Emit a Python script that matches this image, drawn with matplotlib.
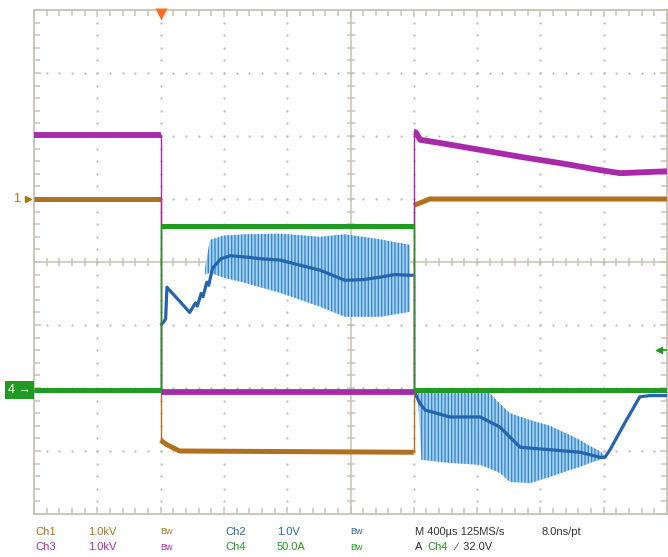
import matplotlib
matplotlib.use('Agg')
import matplotlib.pyplot as plt
from matplotlib.ticker import MultipleLocator
import numpy as np

plt.rcParams['font.family'] = ['Liberation Sans', 'DejaVu Sans']

# ---- data in screen divisions (time 0..10 div, amplitude -4..4 div) ----
ch3_t = [0.0, 2.0, 2.0, 6.0, 6.0, 6.03, 6.1, 6.41, 7.05, 7.68, 8.31, 8.94, 9.26, 10.0]
ch3_v = [2.02, 2.02, -2.06, -2.06, 2.06, 2.06, 1.94, 1.89, 1.78, 1.67, 1.57, 1.46, 1.41, 1.44]

ch1_t = [0.0, 2.0, 2.0, 2.1, 2.3, 6.0, 6.0, 6.08, 6.25, 10.0]
ch1_v = [1.0, 1.0, -2.83, -2.9, -3.0, -3.02, 0.9, 0.93, 1.0, 1.0]

ch4_t = [0.0, 2.0, 2.0, 6.0, 6.0, 10.0]
ch4_v = [-2.03, -2.03, 0.57, 0.57, -2.03, -2.03]

ch2_t = [0.0, 2.0, 2.0, 2.05, 2.08, 2.1, 2.46, 2.55, 2.58, 2.64, 2.67, 2.73, 2.76,
         2.82, 2.95, 3.1, 3.33, 3.6, 3.89, 4.2, 4.52, 4.91, 5.2, 5.47, 5.7, 5.94, 6.0,
         6.0, 6.05, 6.1, 6.18, 6.57, 7.05, 7.36, 7.68, 8.15, 8.63, 8.94, 9.02, 9.1,
         9.33, 9.57, 9.73, 10.0]
ch2_v = [-2.03, -2.03, -1.0, -0.95, -0.9, -0.4, -0.8, -0.65, -0.7, -0.5, -0.55, -0.32, -0.37,
         -0.1, 0.05, 0.1, 0.08, 0.05, 0.03, -0.05, -0.13, -0.29, -0.28, -0.24, -0.2, -0.21, -0.21,
         -2.03, -2.15, -2.25, -2.35, -2.46, -2.46, -2.62, -2.94, -2.98, -3.02, -3.1, -3.1, -2.98,
         -2.56, -2.14, -2.12, -2.12]

# ripple envelope, on interval
rip1_t = [2.7, 2.78, 3.0, 3.33, 3.89, 4.52, 4.91, 5.47, 5.94]
rip1_hi = [-0.1, 0.35, 0.42, 0.44, 0.45, 0.40, 0.44, 0.36, 0.27]
rip1_lo = [-0.2, -0.17, -0.25, -0.33, -0.49, -0.71, -0.87, -0.87, -0.79]
# ripple envelope, off interval
rip2_t = [6.07, 6.12, 6.57, 7.05, 7.2, 7.36, 7.52, 7.84, 8.15, 8.3, 8.47, 8.63, 8.78, 8.94, 9.02]
rip2_hi = [-2.08, -2.08, -2.08, -2.08, -2.08, -2.25, -2.40, -2.51, -2.6, -2.67, -2.75, -2.83, -2.92, -3.0, -3.08]
rip2_lo = [-2.2, -3.14, -3.19, -3.22, -3.28, -3.35, -3.49, -3.51, -3.41, -3.36, -3.30, -3.25, -3.19, -3.14, -3.11]

C_PUR = '#a82aaa'
C_ORG = '#b0701e'
C_GRN = '#1f9a22'
C_BLU = '#2464b0'
C_GRID = '#c7c2b2'

fig = plt.figure(figsize=(6.68, 5.57), dpi=100)
ax = fig.add_axes([34/668, 43/557, 633/668, 504/557])
ax.set_xlim(0, 10)
ax.set_ylim(-4, 4)
for s in ax.spines.values():
    s.set_color(C_GRID)
    s.set_linewidth(1.3)
ax.xaxis.set_major_locator(MultipleLocator(1))
ax.yaxis.set_major_locator(MultipleLocator(1))
ax.xaxis.set_minor_locator(MultipleLocator(0.2))
ax.yaxis.set_minor_locator(MultipleLocator(0.2))
ax.tick_params(which='both', direction='in', top=True, right=True, labelbottom=False,
               labelleft=False, color=C_GRID, width=1.1)
ax.tick_params(which='major', length=5)
ax.tick_params(which='minor', length=4)

# graticule
ax.axhline(0, color=C_GRID, lw=1.1, zorder=1)
ax.axvline(5, color=C_GRID, lw=1.1, zorder=1)
mt = np.arange(0.2, 10, 0.2)
ax.plot(mt, np.zeros_like(mt), ls='none', marker='|', ms=6, color=C_GRID, mew=1.1, zorder=1)
mv = np.arange(-3.8, 4, 0.2)
ax.plot(np.full_like(mv, 5), mv, ls='none', marker='_', ms=6, color=C_GRID, mew=1.1, zorder=1)
dx, dy = [], []
for gx in range(1, 10):
    if gx == 5:
        continue
    for yy in mv:
        dx.append(gx); dy.append(yy)
for gy in range(-3, 4):
    if gy == 0:
        continue
    for xx in mt:
        dx.append(xx); dy.append(gy)
ax.scatter(dx, dy, s=2.5, color='#b9b9b9', linewidths=0, zorder=1)


def trace(t, v, color, lw, z):
    """Thick runs between edges, thin vertical edges (like a scope display)."""
    run_t, run_v = [t[0]], [v[0]]
    for i in range(len(t) - 1):
        if t[i] == t[i + 1]:
            if len(run_t) > 1:
                ax.plot(run_t, run_v, color=color, lw=lw, zorder=z,
                        solid_capstyle='butt', solid_joinstyle='round')
            ax.plot([t[i], t[i + 1]], [v[i], v[i + 1]], color=color, lw=1.0, zorder=z)
            run_t, run_v = [t[i + 1]], [v[i + 1]]
        else:
            run_t.append(t[i + 1]); run_v.append(v[i + 1])
    if len(run_t) > 1:
        ax.plot(run_t, run_v, color=color, lw=lw, zorder=z,
                solid_capstyle='butt', solid_joinstyle='round')


# ripple bands
ax.fill_between(rip1_t, rip1_lo, rip1_hi, facecolor='#a2d4f2', edgecolor='#3f84c6',
                hatch='|||||', linewidth=0, zorder=2)
ax.fill_between(rip2_t, rip2_lo, rip2_hi, facecolor='#a2d4f2', edgecolor='#3f84c6',
                hatch='|||||', linewidth=0, zorder=2)

trace(ch2_t, ch2_v, C_BLU, 2.3, 3)
trace(ch1_t, ch1_v, C_ORG, 3.6, 4)
trace(ch3_t, ch3_v, C_PUR, 4.2, 4)
trace(ch4_t, ch4_v, C_GRN, 3.6, 5)

# markers
ax.plot([2.0], [3.93], marker='v', ms=8, color='#ff6a2a', clip_on=False, zorder=6, mec='none')
ax.plot([9.88], [-1.40], marker='<', ms=5, color=C_GRN, zorder=6)
ax.plot([9.88, 10.0], [-1.40, -1.40], color=C_GRN, lw=1.2, zorder=6)
ax.plot([-0.1], [1.0], marker='>', ms=4, color=C_ORG, clip_on=False, zorder=6)
ax.text(-0.22, 1.0, '1', color=C_ORG, fontsize=9, ha='right', va='center', clip_on=False)
ax.text(-0.05, -2.03, '4 \u2192', color='white', fontsize=9, ha='right', va='center',
        clip_on=False, bbox=dict(boxstyle='square,pad=0.25', facecolor=C_GRN, edgecolor='none'))

# readout text
fs = 8
r1, r2 = 1 - 532/557, 1 - 547/557
def t(xpx, y, s, c, size=fs):
    fig.text(xpx/668, y, s, color=c, fontsize=size, va='center', ha='left')
t(35, r1, 'Ch1', C_ORG); t(88, r1, '1.0kV', C_ORG); t(160, r1, 'Bw', C_ORG, 6.5)
t(225, r1, 'Ch2', C_BLU); t(277, r1, '1.0V', C_BLU); t(350, r1, 'Bw', C_BLU, 6.5)
t(415, r1, 'M 400\u00b5s 125MS/s', '#333333'); t(542, r1, '8.0ns/pt', '#333333')
t(35, r2, 'Ch3', C_PUR); t(88, r2, '1.0kV', C_PUR); t(160, r2, 'Bw', C_PUR, 6.5)
t(225, r2, 'Ch4', C_GRN); t(277, r2, '50.0A', C_GRN); t(350, r2, 'Bw', C_GRN, 6.5)
t(415, r2, 'A', '#333333'); t(427, r2, 'Ch4', C_GRN); t(455, r2, '\u2215  32.0V', '#333333')

fig.savefig('out.png', dpi=100, facecolor='white')
